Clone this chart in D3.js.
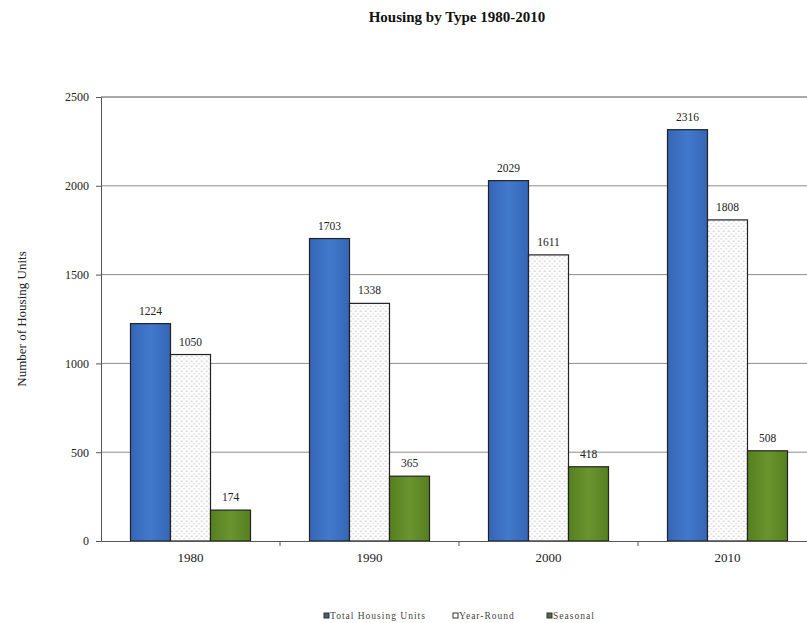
<!DOCTYPE html>
<html>
<head>
<meta charset="utf-8">
<script src="https://cdn.jsdelivr.net/npm/d3@7"></script>
<style>
  body { margin: 0; background: #fff; }
  svg { display: block; }
  svg text { font-family: "Liberation Serif", "DejaVu Serif", serif; }
</style>
</head>
<body>
<svg id="chart" width="807" height="623"></svg>
<script>
// Housing units by decade
const years = ["1980", "1990", "2000", "2010"];
const seriesNames = ["Total Housing Units", "Year-Round", "Seasonal"];
const totalUnits = [1224, 1703, 2029, 2316];
const yearRound = [1050, 1338, 1611, 1808];
const seasonal = [174, 365, 418, 508];
const yTicks = [0, 500, 1000, 1500, 2000, 2500];

const seriesValues = [totalUnits, yearRound, seasonal];

const svg = d3.select("#chart");
const margin = { left: 101, top: 97, right: 817, bottom: 541 };

const defs = svg.append("defs");
const dots = defs.append("pattern")
  .attr("id", "dots").attr("patternUnits", "userSpaceOnUse")
  .attr("width", 5).attr("height", 5);
dots.append("rect").attr("width", 5).attr("height", 5).attr("fill", "#fdfdfd");
dots.append("circle").attr("cx", 1.2).attr("cy", 1.2).attr("r", 0.7).attr("fill", "#b8b8b8");
dots.append("circle").attr("cx", 3.7).attr("cy", 3.7).attr("r", 0.7).attr("fill", "#cfcfcf");

const blueGrad = defs.append("linearGradient").attr("id", "blueGrad")
  .attr("x1", 0).attr("x2", 1).attr("y1", 0).attr("y2", 0);
blueGrad.append("stop").attr("offset", "0%").attr("stop-color", "#3566b5");
blueGrad.append("stop").attr("offset", "50%").attr("stop-color", "#4279cc");
blueGrad.append("stop").attr("offset", "100%").attr("stop-color", "#3566b5");

const greenGrad = defs.append("linearGradient").attr("id", "greenGrad")
  .attr("x1", 0).attr("x2", 1).attr("y1", 0).attr("y2", 0);
greenGrad.append("stop").attr("offset", "0%").attr("stop-color", "#56801f");
greenGrad.append("stop").attr("offset", "50%").attr("stop-color", "#6a9430");
greenGrad.append("stop").attr("offset", "100%").attr("stop-color", "#56801f");

const fills = ["url(#blueGrad)", "url(#dots)", "url(#greenGrad)"];
const legendFills = ["#4a5a78", "#ffffff", "#55684a"];

const x = d3.scaleBand().domain(years).range([margin.left, margin.right]);
const inner = d3.scaleBand().domain(d3.range(3)).range([0, 120]);
const y = d3.scaleLinear().domain([0, 2500]).range([margin.bottom, margin.top]);

// Gridlines
svg.append("g").selectAll("line").data(yTicks.filter(d => d > 0)).join("line")
  .attr("x1", margin.left).attr("x2", margin.right)
  .attr("y1", d => y(d)).attr("y2", d => y(d))
  .attr("stroke", "#8c8c8c").attr("stroke-width", 1);

// Bars
const groups = svg.append("g").selectAll("g").data(years).join("g")
  .attr("transform", d => `translate(${x(d) + x.bandwidth() / 2 - 60},0)`);

groups.each(function (yr, i) {
  const g = d3.select(this);
  seriesValues.forEach((vals, s) => {
    const v = vals[i];
    g.append("rect")
      .attr("x", inner(s)).attr("width", inner.bandwidth())
      .attr("y", y(v)).attr("height", y(0) - y(v))
      .attr("fill", fills[s]).attr("stroke", "#222").attr("stroke-width", 1.2);
    g.append("text")
      .attr("x", inner(s) + inner.bandwidth() / 2)
      .attr("y", y(v) - 9)
      .attr("text-anchor", "middle")
      .attr("font-size", 11.5).attr("fill", "#222")
      .text(v);
  });
});

// Axes
const yAxis = d3.axisLeft(y).tickValues(yTicks).tickFormat(d3.format("d")).tickSize(5).tickPadding(7);
const yg = svg.append("g").attr("transform", `translate(${margin.left},0)`).call(yAxis)
  .attr("font-family", null);
yg.select(".domain").attr("stroke", "#555");
yg.selectAll(".tick line").attr("stroke", "#555");
yg.selectAll("text").attr("font-size", 12).attr("fill", "#222");

const xAxis = d3.axisBottom(x).tickSize(0).tickPadding(12);
const xg = svg.append("g").attr("transform", `translate(0,${margin.bottom})`).call(xAxis)
  .attr("font-family", null);
xg.select(".domain").attr("stroke", "#555");
xg.selectAll("text").attr("font-size", 13).attr("fill", "#222");

// Band boundary ticks below the baseline
svg.append("g").selectAll("line").data(years.slice(1)).join("line")
  .attr("x1", d => x(d)).attr("x2", d => x(d))
  .attr("y1", margin.bottom).attr("y2", margin.bottom + 5)
  .attr("stroke", "#555");

// Top border of plot
svg.append("line").attr("x1", margin.left).attr("x2", margin.right)
  .attr("y1", margin.top).attr("y2", margin.top).attr("stroke", "#8c8c8c");

// Title
svg.append("text").attr("x", 457).attr("y", 22).attr("text-anchor", "middle")
  .attr("font-size", 15).attr("font-weight", "bold").attr("fill", "#111")
  .text("Housing by Type 1980-2010");

// Y axis title
svg.append("text")
  .attr("transform", `translate(26,${(margin.top + margin.bottom) / 2}) rotate(-90)`)
  .attr("text-anchor", "middle").attr("font-size", 13).attr("fill", "#222")
  .text("Number of Housing Units");

// Legend
const legendX = [324, 453, 547];
const lg = svg.append("g").selectAll("g").data(seriesNames).join("g")
  .attr("transform", (d, i) => `translate(${legendX[i]},613)`);
lg.append("rect").attr("width", 5).attr("height", 5)
  .attr("fill", (d, i) => legendFills[i]).attr("stroke", "#333").attr("stroke-width", 1);
lg.append("text").attr("x", 6).attr("y", 6).attr("font-size", 9.5).attr("letter-spacing", 1)
  .attr("fill", "#444")
  .text(d => d);
</script>
</body>
</html>
